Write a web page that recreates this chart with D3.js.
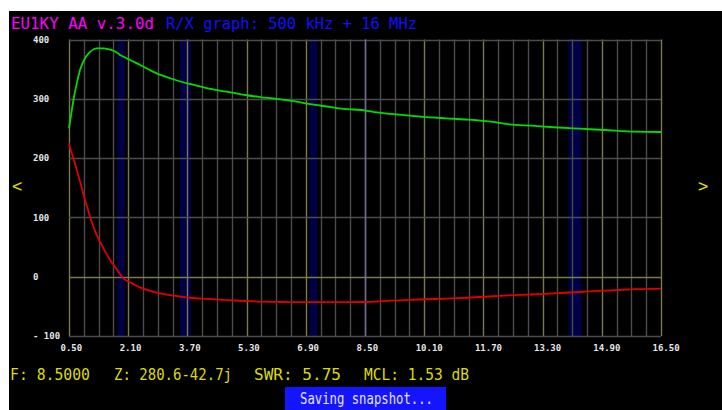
<!DOCTYPE html>
<html>
<head>
<meta charset="utf-8">
<script src="https://cdn.jsdelivr.net/npm/d3@7"></script>
<style>
  body { margin: 0; background: #fff; }
  svg { display: block; }
  .mono { font-family: "DejaVu Sans Mono", monospace; }
</style>
</head>
<body>
<svg id="chart" width="722" height="410"></svg>
<script>

// frequency (MHz) of each sample
var freqs = [0.5, 0.55, 0.62, 0.71, 0.8, 0.93, 1.07, 1.25, 1.43, 1.52, 1.61, 1.7, 1.79, 1.88, 1.97,
  2.1, 2.15, 2.42, 2.87, 3.32, 3.7, 3.77, 4.22, 4.76, 5.3, 5.66, 6.11, 6.56, 7.02, 7.47, 7.92,
  8.48, 8.82, 9.2, 9.72, 10.17, 10.71, 11.25, 11.97, 12.4, 13.0, 13.6, 14.3, 14.96, 15.36, 15.8, 16.5];

// R (green)
var rValues = [250, 270, 298, 326, 349, 368, 379, 385, 385, 384, 383, 381, 378, 374, 371,
  367, 365.5, 357, 343, 333, 326, 325, 318, 312, 306, 303, 300, 296, 291, 287, 283,
  280.6, 277, 274.5, 271.5, 269, 267, 265, 261, 257, 254.6, 252, 249.6, 247.4, 246, 244.5, 244];

// X (red)
var xValues = [225, 213, 200, 180, 160, 130, 101, 70, 48, 38, 28, 20, 12.5, 4, -3,
  -8, -9.5, -18, -27, -32, -35, -35.5, -37.5, -39.5, -41, -42, -42.5, -43, -43, -43, -43,
  -42.7, -42, -40.5, -39, -38, -37, -35.5, -33, -31.5, -30, -28, -25.8, -23.5, -22.4, -21, -20];

// amateur bands shaded on the graph
var bandStart = [1.81, 3.5, 7.0, 14.0];
var bandEnd = [2.0, 3.8, 7.2, 14.35];

var xTicks = [0.5, 2.1, 3.7, 5.3, 6.9, 8.5, 10.1, 11.7, 13.3, 14.9, 16.5];
var yTicks = [-100, 0, 100, 200, 300, 400];
var yTickLabels = ['- 100', '0', '100', '200', '300', '400'];

var cursorFreq = 8.5;

var svg = d3.select('#chart');

// black screen area
svg.append('rect')
  .attr('x', 9).attr('y', 11)
  .attr('width', 713).attr('height', 399)
  .attr('fill', '#000');

// NOTE: "top" is taken by window.top, so plot edges get their own names
var plotLeft = 69, plotRight = 661, plotTop = 39.5, plotBottom = 336;

var x = d3.scaleLinear().domain([0.5, 16.5]).range([plotLeft, plotRight]);
var y = d3.scaleLinear().domain([-100, 400]).range([plotBottom, plotTop]);

// band shading
svg.append('g').selectAll('rect')
  .data(bandStart)
  .enter().append('rect')
    .attr('x', function(d) { return x(d); })
    .attr('y', plotTop)
    .attr('width', function(d, i) { return x(bandEnd[i]) - x(d); })
    .attr('height', plotBottom - plotTop)
    .attr('fill', '#000048');

// vertical grid, every 0.4 MHz, brighter every 1.6 MHz
var vGrid = d3.range(0, 41).map(function(i) { return 0.5 + i * 0.4; });
svg.append('g').selectAll('line')
  .data(vGrid)
  .enter().append('line')
    .attr('x1', function(d) { return Math.round(x(d)) + 0.5; })
    .attr('x2', function(d) { return Math.round(x(d)) + 0.5; })
    .attr('y1', plotTop).attr('y2', plotBottom)
    .attr('stroke', function(d, i) { return i % 4 === 0 ? '#7c7a4c' : '#4c4c4c'; })
    .attr('stroke-width', 1.4);

// horizontal grid
svg.append('g').selectAll('line')
  .data(yTicks)
  .enter().append('line')
    .attr('x1', plotLeft).attr('x2', plotRight)
    .attr('y1', function(d) { return Math.round(y(d)) + 0.5; })
    .attr('y2', function(d) { return Math.round(y(d)) + 0.5; })
    .attr('stroke', function(d) { return d === 0 ? '#7c7a4c' : '#4c4c4c'; })
    .attr('stroke-width', 1.4);

// cursor
svg.append('line')
  .attr('x1', Math.round(x(cursorFreq)) + 0.5).attr('x2', Math.round(x(cursorFreq)) + 0.5)
  .attr('y1', plotTop).attr('y2', plotBottom)
  .attr('stroke', '#6a6aa8')
  .attr('stroke-width', 1.4);

// axes: only the labels are kept
var xAxis = svg.append('g')
  .attr('class', 'mono')
  .attr('transform', 'translate(0,' + 344 + ')')
  .call(d3.axisBottom(x).tickValues(xTicks).tickSize(0).tickFormat(d3.format('.2f')));
xAxis.select('.domain').remove();
xAxis.selectAll('text')
  .attr('y', 0).attr('dy', '0.8em').attr('dx', -9)
  .attr('text-anchor', 'start')
  .attr('fill', '#e6e6e6')
  .style('font-size', '9px').style('font-weight', 'bold');

var yAxis = svg.append('g')
  .attr('class', 'mono')
  .attr('transform', 'translate(33,0)')
  .call(d3.axisLeft(y).tickValues(yTicks).tickSize(0)
    .tickFormat(function(d, i) { return yTickLabels[i]; }));
yAxis.select('.domain').remove();
yAxis.selectAll('text')
  .attr('x', 0).attr('text-anchor', 'start')
  .attr('fill', '#e6e6e6')
  .style('font-size', '9px').style('font-weight', 'bold');

// curves
var curveLine = d3.line()
  .curve(d3.curveMonotoneX)
  .x(function(d, i) { return x(freqs[i]); })
  .y(function(d) { return y(d); });

svg.append('path')
  .datum(rValues)
  .attr('d', curveLine)
  .attr('fill', 'none')
  .attr('stroke', '#00dc00')
  .attr('stroke-width', 1.8);

svg.append('path')
  .datum(xValues)
  .attr('d', curveLine)
  .attr('fill', 'none')
  .attr('stroke', '#e00000')
  .attr('stroke-width', 1.8);

// title
svg.append('text')
  .attr('class', 'mono')
  .attr('x', 11).attr('y', 29)
  .attr('textLength', 143).attr('lengthAdjust', 'spacingAndGlyphs')
  .attr('fill', '#ff00ff')
  .style('font-size', '16px')
  .text('EU1KY AA v.3.0d');

svg.append('text')
  .attr('class', 'mono')
  .attr('x', 166).attr('y', 29)
  .attr('textLength', 251).attr('lengthAdjust', 'spacingAndGlyphs')
  .attr('fill', '#1010ff')
  .style('font-size', '16px')
  .text('R/X graph: 500 kHz + 16 MHz');

// scroll arrows
svg.append('text').attr('class', 'mono')
  .attr('x', 12).attr('y', 192)
  .attr('fill', '#dcdc00').style('font-size', '17px')
  .text('<');
svg.append('text').attr('class', 'mono')
  .attr('x', 698).attr('y', 192)
  .attr('fill', '#dcdc00').style('font-size', '17px')
  .text('>');

// status line
var statusText = ['F: 8.5000', 'Z: 280.6-42.7j', 'SWR: 5.75', 'MCL: 1.53 dB'];
var statusX = [10, 114, 254, 364];
var statusW = [80, 118, 87, 105];
svg.append('g').selectAll('text')
  .data(statusText)
  .enter().append('text')
    .attr('class', 'mono')
    .attr('x', function(d, i) { return statusX[i]; })
    .attr('y', 380)
    .attr('textLength', function(d, i) { return statusW[i]; })
    .attr('lengthAdjust', 'spacingAndGlyphs')
    .attr('fill', '#dcdc00')
    .style('font-size', '16px')
    .text(function(d) { return d; });

// snapshot message
svg.append('rect')
  .attr('x', 285).attr('y', 387)
  .attr('width', 161).attr('height', 23)
  .attr('fill', '#1414ff');
svg.append('text')
  .attr('class', 'mono')
  .attr('x', 300).attr('y', 404)
  .attr('textLength', 133).attr('lengthAdjust', 'spacingAndGlyphs')
  .attr('fill', '#e4e4ff')
  .style('font-size', '16px')
  .text('Saving snapshot...');

</script>
</body>
</html>
